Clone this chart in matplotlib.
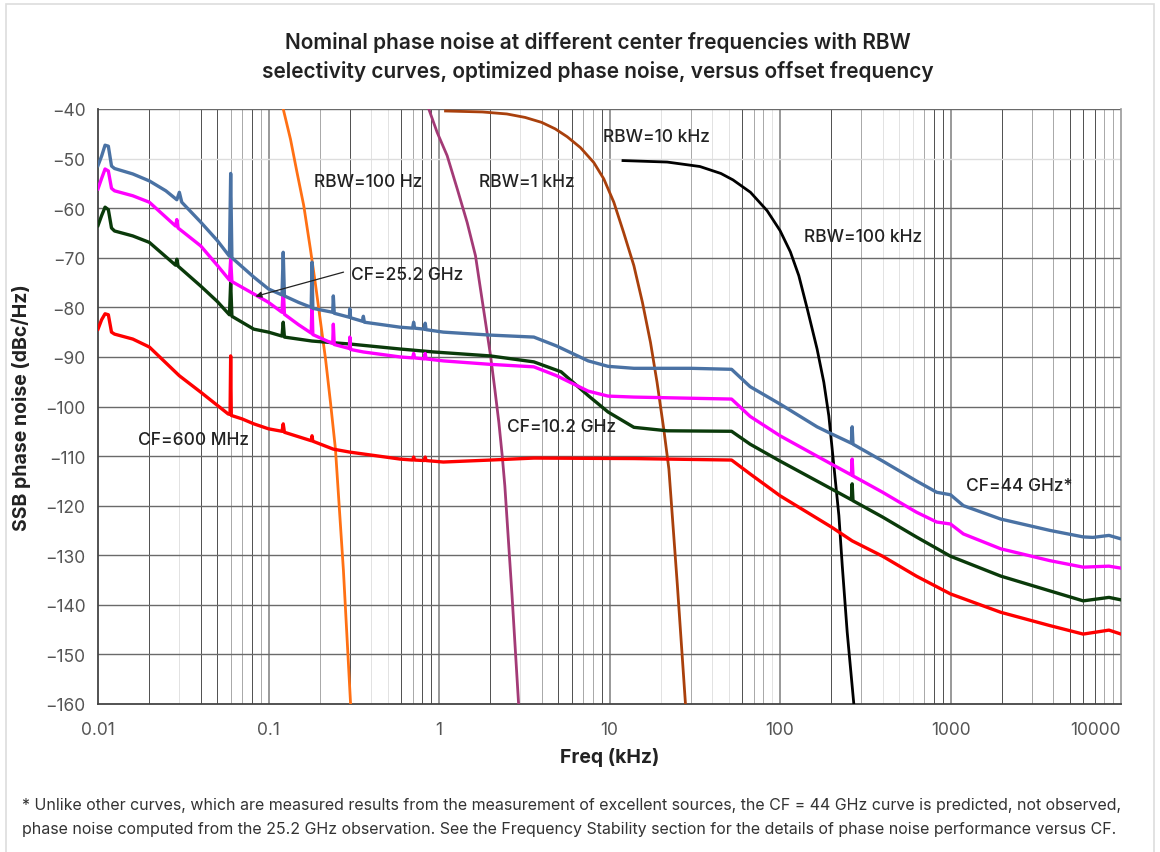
import matplotlib
matplotlib.use("Agg")
import matplotlib.pyplot as plt
from matplotlib.patches import Rectangle

plt.rcParams['font.family'] = ['Inter', 'DejaVu Sans']

# ---- measured / predicted phase noise curves (freq in kHz, level in dBc/Hz)
f_44g = [0.01, 0.0105, 0.011, 0.0115, 0.012, 0.0125, 0.016, 0.02, 0.025, 0.029, 0.030, 0.031,
         0.04, 0.05, 0.059, 0.06, 0.061, 0.082, 0.1, 0.12, 0.122, 0.124, 0.15, 0.178, 0.18, 0.182,
         0.238, 0.24, 0.243, 0.298, 0.30, 0.303, 0.355, 0.36, 0.365, 0.59, 0.70, 0.71, 0.72, 0.82,
         0.83, 0.84, 1.06, 2.0, 3.6, 4.9, 7.5, 9.8, 13.9, 30, 52, 66.8, 100, 165, 200, 262, 265,
         268, 400, 630, 830, 1000, 1190, 1970, 3840, 6000, 6850, 8500, 10000]
db_44g = [-51.4, -49.5, -47.3, -47.5, -51.5, -52.0, -53.1, -54.5, -56.5, -58.3, -56.8, -58.8,
          -62.8, -66.5, -69.7, -53.0, -70.0, -73.9, -76.3, -77.5, -68.9, -77.7, -79.0, -80.0, -70.9, -80.2,
          -81.0, -77.7, -81.2, -82.0, -80.3, -82.1, -82.8, -81.8, -83.0, -84.0, -84.2, -83.0, -84.2, -84.4,
          -83.2, -84.5, -85.0, -85.6, -86.0, -87.8, -90.8, -91.9, -92.3, -92.3, -92.5, -96.0, -99.5, -104.1,
          -105.5, -107.4, -104.1, -107.6, -111.0, -115.0, -117.3, -117.8, -120.0, -122.7, -125.0, -126.3,
          -126.4, -126.0, -126.7]

f_25g = [0.01, 0.0105, 0.011, 0.0115, 0.012, 0.0125, 0.016, 0.02, 0.0285, 0.029, 0.0295, 0.04,
         0.05, 0.059, 0.06, 0.061, 0.082, 0.1, 0.12, 0.122, 0.124, 0.15, 0.178, 0.18, 0.182, 0.238,
         0.24, 0.243, 0.298, 0.30, 0.303, 0.36, 0.59, 0.70, 0.71, 0.72, 0.82, 0.83, 0.84, 1.06, 2.0,
         3.6, 4.9, 7.5, 9.8, 13.9, 52, 66.8, 100, 200, 262, 265, 268, 400, 630, 830, 1000, 1190,
         1970, 3840, 6000, 8500, 10000]
db_25g = [-56.1, -54.0, -52.1, -52.5, -56.0, -56.5, -57.5, -58.8, -63.6, -62.3, -64.0, -67.6,
          -71.5, -74.5, -70.3, -74.8, -77.3, -79.0, -81.0, -76.0, -81.4, -83.5, -85.2, -79.0, -85.5, -87.3,
          -83.4, -87.5, -88.3, -86.0, -88.5, -89.0, -90.0, -90.2, -89.3, -90.2, -90.4, -89.3, -90.4, -90.8,
          -91.5, -92.0, -93.8, -96.9, -97.9, -98.1, -98.5, -102.0, -105.9, -111.6, -113.8, -110.6, -114.0,
          -117.3, -121.3, -123.3, -123.7, -125.7, -128.7, -131.1, -132.4, -132.2, -132.6]

f_10g = [0.01, 0.0105, 0.011, 0.0115, 0.012, 0.0125, 0.016, 0.02, 0.0285, 0.029, 0.0295, 0.04,
         0.05, 0.059, 0.06, 0.061, 0.082, 0.1, 0.12, 0.122, 0.124, 0.18, 0.3, 0.59, 0.93, 2.0, 3.6,
         5.2, 7.5, 9.8, 13.9, 21.8, 52, 66.8, 100, 200, 262, 265, 268, 400, 630, 1000, 1970, 3840,
         6000, 8500, 10000]
db_10g = [-63.5, -61.5, -59.8, -60.3, -64.0, -64.6, -65.6, -66.9, -71.5, -70.3, -71.7, -75.7,
          -78.8, -81.5, -75.0, -81.8, -84.4, -85.0, -85.8, -83.0, -86.0, -86.8, -87.4, -88.4, -89.0, -89.8,
          -91.0, -93.0, -97.8, -101.1, -104.2, -104.9, -105.0, -107.6, -111.0, -116.6, -118.8, -115.6,
          -119.0, -122.3, -126.3, -130.2, -134.2, -137.2, -139.2, -138.5, -139.0]

f_600m = [0.01, 0.0105, 0.011, 0.0115, 0.012, 0.0125, 0.016, 0.02, 0.03, 0.04, 0.058, 0.0595,
          0.06, 0.0605, 0.07, 0.082, 0.1, 0.12, 0.122, 0.124, 0.178, 0.18, 0.182, 0.24, 0.3, 0.59,
          0.70, 0.71, 0.72, 0.82, 0.83, 0.84, 1.06, 2.0, 3.6, 13.9, 52, 66.8, 100, 200, 265, 400,
          630, 1000, 1970, 3840, 6000, 8500, 10000]
db_600m = [-84.4, -82.5, -81.3, -81.5, -85.0, -85.4, -86.4, -88.0, -93.8, -97.1, -101.5, -101.6,
           -89.8, -101.8, -102.5, -103.5, -104.5, -105.0, -103.5, -105.2, -106.9, -105.9, -107.0, -108.6,
           -109.2, -110.6, -110.8, -110.2, -110.8, -110.9, -110.2, -110.9, -111.2, -110.8, -110.4, -110.5,
           -110.8, -113.6, -118.0, -124.3, -127.1, -130.2, -134.2, -137.8, -141.5, -144.2, -145.9, -145.1,
           -145.9]

# ---- RBW selectivity curves
f_rbw100 = [0.122, 0.1346, 0.147, 0.161, 0.176, 0.189, 0.202, 0.216, 0.231, 0.247, 0.275, 0.303]
db_rbw100 = [-40, -46.1, -52.8, -59.5, -68.2, -75.6, -83.0, -90.4, -99.2, -108.6, -133.0, -160]
f_rbw1k = [0.871, 0.975, 1.116, 1.279, 1.463, 1.637, 1.751, 1.874, 2.005, 2.125, 2.244, 2.348,
           2.433, 2.68, 2.93]
db_rbw1k = [-40, -44.7, -49.4, -56.1, -62.9, -69.6, -76.3, -83.0, -89.7, -96.5, -103.2, -109.9,
            -116.0, -138.0, -160]
f_rbw10k = [1.092, 1.8, 2.5, 3.2, 4.0, 4.8, 5.65, 6.76, 8.09, 9.26, 10.6, 12.1, 13.9, 15.6, 17.4,
            19.0, 20.8, 22.3, 25.0, 27.9]
db_rbw10k = [-40.4, -40.6, -41.0, -41.7, -42.7, -44.0, -45.6, -47.8, -50.8, -54.1, -58.8, -64.9,
             -71.6, -79.0, -87.1, -95.1, -104.5, -112.6, -136.0, -160]
f_rbw100k = [12, 21.8, 33.9, 45, 53, 67.1, 84, 100, 115, 128.9, 145, 165, 180.7, 193.4, 211.7,
             221.5, 231.8, 247.8, 271]
db_rbw100k = [-50.4, -50.7, -51.6, -53.0, -54.3, -56.8, -60.5, -64.5, -68.8, -73.6, -80.5, -88.4,
              -95.1, -101.9, -115.3, -122.0, -132.1, -145.5, -160]

x_ticks = [0.01, 0.1, 1, 10, 100, 1000, 10000]
x_tick_labels = ['0.01', '0.1', '1', '10', '100', '1000', '10000']
y_ticks = list(range(-160, -39, 10))

# minor vertical gridline shades (the source chart has mixed line tones)
dark_minor = [0.02, 0.04, 0.05, 0.08, 0.3, 0.6, 0.8, 0.9, 2, 5, 6, 9, 60, 200, 800, 900,
              2000, 5000, 6000, 7000]
mid_minor = [0.06, 0.07, 0.09, 0.2, 0.7, 4, 7, 8, 30, 70, 80, 300, 700, 3000, 4000, 8000, 9000]

fig = plt.figure(figsize=(11.6, 8.53), dpi=100)
fig.patches.append(Rectangle((6 / 1160, -0.01), 1 - 12 / 1160, 1 - 5 / 853 + 0.01,
                             transform=fig.transFigure, fill=False, ec='#dddddd', lw=1.2))
ax = fig.add_axes([98 / 1160, 1 - 705 / 853, (1121 - 98) / 1160, (705 - 110) / 853])
ax.set_xscale('log')
ax.set_xlim(0.01, 10000)
ax.set_ylim(-160, -40)

# gridlines
for d in range(-2, 4):
    for m in range(2, 10):
        v = round(m * 10 ** d, 6)
        if any(abs(v - q) < 1e-9 for q in dark_minor):
            ax.axvline(v, color='#333333', lw=0.6, zorder=1)
        elif any(abs(v - q) < 1e-9 for q in mid_minor):
            ax.axvline(v, color='#a8a8a8', lw=0.7, zorder=1)
        else:
            ax.axvline(v, color='#e2e2e2', lw=0.7, zorder=1)
for v in x_ticks[1:-1]:
    ax.axvline(v, color='#999999', lw=1.4, zorder=1)
for y in y_ticks[1:]:
    ax.axhline(y, color='#dddddd' if y == -50 else '#6a6a6a', lw=1.0, zorder=1)

# RBW curves
ax.plot(f_rbw100, db_rbw100, color='#ff7014', lw=2.0, zorder=3)
ax.plot(f_rbw1k, db_rbw1k, color='#a33a76', lw=2.0, zorder=3)
ax.plot(f_rbw10k, db_rbw10k, color='#a9400c', lw=2.0, zorder=3)
ax.plot(f_rbw100k, db_rbw100k, color='#000000', lw=2.0, zorder=3)

# phase noise curves
ax.plot(f_600m, db_600m, color='#ff0000', lw=2.4, zorder=4)
ax.plot(f_10g, db_10g, color='#0a3a0a', lw=2.4, zorder=4)
ax.plot(f_25g, db_25g, color='#ff00ff', lw=2.4, zorder=4)
ax.plot(f_44g, db_44g, color='#4a72a4', lw=2.4, zorder=5)

# annotations
lab = dict(fontsize=12.5, fontweight='medium', color='#222222', zorder=6, va='center')
ax.text(0.184, -54.7, 'RBW=100 Hz', **lab)
ax.text(1.726, -54.7, 'RBW=1 kHz', **lab)
ax.text(9.1, -45.6, 'RBW=10 kHz', **lab)
ax.text(139, -65.8, 'RBW=100 kHz', **lab)
ax.text(0.303, -73.3, 'CF=25.2 GHz', **lab)
ax.text(2.49, -104.1, 'CF=10.2 GHz', **lab)
ax.text(0.01705, -106.6, 'CF=600 MHz', **lab)
ax.text(1239, -116.0, 'CF=44 GHz*', **lab)
ax.annotate('', xy=(0.0838, -77.8), xytext=(0.2755, -72.9),
            arrowprops=dict(arrowstyle='-|>', color='#222222', lw=0.9,
                            mutation_scale=9, shrinkA=0, shrinkB=0), zorder=6)

# axes styling
ax.set_xticks(x_ticks)
ax.set_xticklabels(x_tick_labels)
ax.set_xticks([], minor=True)
ax.set_yticks(y_ticks)
ax.set_yticklabels([f'\u2212{abs(v)}' for v in y_ticks])
ax.tick_params(axis='both', length=0, labelsize=12.5, labelcolor='#555555')
ax.tick_params(axis='x', pad=12)
ax.tick_params(axis='y', pad=9)
ax.get_xticklabels()[-1].set_ha('right')
ax.spines['top'].set_visible(False)
ax.spines['right'].set_color('#999999')
ax.spines['right'].set_linewidth(1.2)
ax.spines['left'].set_color('#444444')
ax.spines['bottom'].set_color('#444444')
ax.spines['left'].set_linewidth(1.3)
ax.spines['bottom'].set_linewidth(1.3)

ax.set_xlabel('Freq (kHz)', fontsize=14, fontweight='bold', color='#222222', labelpad=7)
ax.set_ylabel('SSB phase noise (dBc/Hz)', fontsize=14, fontweight='bold', color='#222222', labelpad=10)

fig.text(598 / 1160, 1 - 57 / 853,
         'Nominal phase noise at different center frequencies with RBW\n'
         'selectivity curves, optimized phase noise, versus offset frequency',
         ha='center', va='center', fontsize=15, fontweight='semibold', color='#222222',
         linespacing=1.45)
fig.text(22 / 1160, 1 - 818 / 853,
         '* Unlike other curves, which are measured results from the measurement of excellent sources, '
         'the CF = 44 GHz curve is predicted, not observed,\n'
         'phase noise computed from the 25.2 GHz observation. See the Frequency Stability section '
         'for the details of phase noise performance versus CF.',
         ha='left', va='center', fontsize=11.5, color='#333333', linespacing=1.75)

fig.savefig('out.png', dpi=100)
